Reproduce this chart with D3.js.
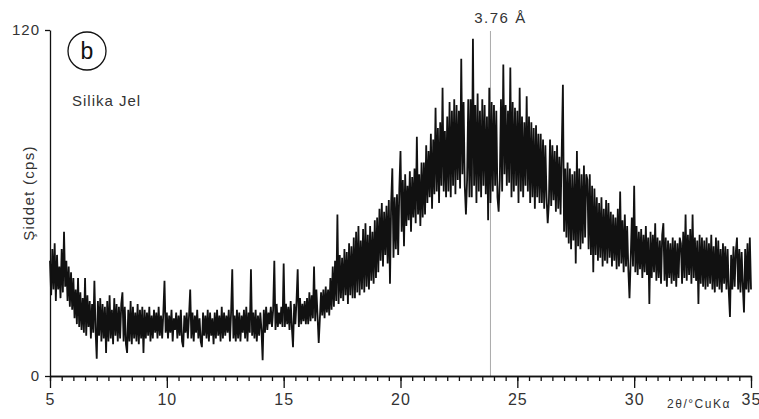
<!DOCTYPE html>
<html>
<head>
<meta charset="utf-8">
<script src="https://cdn.jsdelivr.net/npm/d3@7"></script>
<style>
    body { margin: 0; background: #fff; }
    svg { display: block; font-family: "Liberation Sans", Arial, sans-serif; }
</style>
</head>
<body>
<svg id="chart" width="759" height="419"></svg>
<script>
// 2θ from 5 to 35 in 0.05 steps, counts one degree per row
const angleStart = 5;
const angleStep = 0.05;
const intensity = [
    40, 28, 44, 30, 46, 26, 42, 30, 38, 27, 44, 29, 50, 31, 40, 26, 38, 24, 36, 23,
    34, 20, 30, 18, 34, 17, 29, 16, 27, 15, 34, 14, 28, 17, 26, 13, 25, 15, 33, 16,
    6, 26, 14, 27, 12, 25, 13, 24, 8, 26, 12, 28, 13, 23, 11, 27, 14, 25, 12, 24,
    13, 25, 29, 12, 24, 11, 8, 23, 12, 26, 11, 24, 13, 22, 12, 25, 11, 23, 13, 24,
    8, 23, 13, 22, 14, 24, 12, 21, 13, 23, 15, 22, 13, 24, 14, 21, 13, 22, 33, 15,
    22, 13, 21, 15, 23, 12, 20, 16, 22, 13, 21, 14, 23, 12, 10, 21, 15, 22, 13, 21,
    30, 13, 22, 12, 21, 15, 23, 13, 20, 12, 10, 22, 14, 21, 13, 23, 12, 22, 14, 20,
    11, 22, 13, 23, 14, 21, 12, 24, 13, 22, 14, 21, 15, 23, 12, 22, 37, 13, 21, 12,
    23, 13, 22, 12, 21, 15, 23, 13, 24, 12, 22, 15, 37, 14, 22, 13, 23, 12, 21, 14,
    22, 16, 5.5, 23, 15, 24, 16, 22, 18, 24, 17, 23, 40, 16, 25, 17, 22, 18, 24, 17,
    39, 17, 25, 18, 24, 16, 26, 17, 10, 25, 18, 26, 37, 17, 27, 18, 25, 19, 26, 18,
    27, 18, 29, 19, 28, 20, 38, 19, 30, 21, 11.5, 20, 29, 21, 30, 20, 31, 22, 30, 21,
    34, 23, 38, 24, 40, 26, 56, 25, 42, 27, 41, 26, 44, 28, 43, 25, 46, 28, 45, 27,
    48, 27, 50, 29, 52, 28, 47, 30, 51, 29, 53, 31, 49, 30, 52, 33, 50, 32, 54, 34,
    55, 36, 58, 40, 60, 38, 57, 42, 59, 39, 61, 32, 60, 72, 41, 62, 44, 63, 42, 65,
    78, 50, 68, 45, 70, 52, 66, 54, 71, 50, 69, 55, 72, 53, 83, 56, 70, 52, 74, 55,
    74, 56, 80, 60, 78, 62, 84, 58, 82, 63, 93, 64, 86, 60, 88, 66, 100, 64, 85, 62,
    90, 64, 95, 62, 92, 66, 96, 63, 94, 68, 92, 65, 110, 70, 95, 66, 56, 68, 96, 62,
    96, 62, 117, 66, 94, 60, 98, 64, 92, 62, 96, 66, 94, 63, 90, 54, 100, 60, 95, 64,
    94, 66, 92, 62, 57, 68, 96, 64, 108, 70, 94, 66, 92, 67, 107, 62, 95, 64, 93, 66,
    92, 60, 100, 64, 90, 62, 88, 66, 97, 64, 90, 60, 88, 62, 86, 58, 87, 62, 84, 60,
    84, 60, 82, 58, 80, 62, 53, 60, 82, 59, 80, 61, 78, 57, 80, 58, 76, 56, 78, 101,
    50, 72, 48, 74, 46, 72, 44, 70, 47, 71, 39, 78, 45, 72, 44, 70, 46, 73, 48, 70,
    68, 44, 70, 42, 66, 36, 65, 42, 62, 40, 60, 41, 62, 38, 58, 40, 61, 39, 60, 41,
    57, 38, 56, 40, 55, 37, 58, 38, 64, 39, 54, 36, 56, 38, 52, 37, 27, 40, 55, 38,
    66, 36, 52, 35, 50, 37, 51, 34, 49, 36, 52, 35, 48, 25, 50, 34, 49, 36, 53, 33,
    48, 34, 47, 32, 49, 53, 33, 48, 31, 47, 34, 46, 32, 48, 33, 47, 31, 46, 34, 48,
    46, 32, 50, 34, 56, 33, 49, 35, 51, 32, 56, 34, 48, 33, 47, 25, 49, 32, 48, 31,
    47, 30, 48, 31, 46, 32, 49, 30, 45, 29, 48, 31, 47, 30, 44, 29, 46, 32, 45, 30,
    44, 29, 20.5, 42, 30, 45, 31, 43, 48, 30, 44, 29, 43, 31, 22, 44, 30, 46, 29, 48,
    30
];
const majorTicks = [5, 10, 15, 20, 25, 30, 35];
const yTicks = [0, 120];
const peakAngle = 23.85;
const peakLabel = '3.76 Å';

const data = intensity.map((value, i) => ({ angle: angleStart + i * angleStep, value }));

const svg = d3.select('#chart');
const ink = '#111';
const textColor = '#333';

const x = d3.scaleLinear().domain([5, 35]).range([50, 751]);
const y = d3.scaleLinear().domain([0, 120]).range([376, 30]);

// reference line at the main reflection
svg.append('line')
    .attr('x1', x(peakAngle))
    .attr('x2', x(peakAngle))
    .attr('y1', 31)
    .attr('y2', y(0))
    .attr('stroke', '#aaa')
    .attr('stroke-width', 1);

svg.append('text')
    .attr('x', x(peakAngle) + 10)
    .attr('y', 23)
    .attr('text-anchor', 'middle')
    .attr('font-size', 15)
    .attr('letter-spacing', 1.5)
    .attr('fill', textColor)
    .text(peakLabel);

const line = d3.line()
    .x(d => x(d.angle))
    .y(d => y(d.value));

svg.append('path')
    .datum(data)
    .attr('fill', 'none')
    .attr('stroke', ink)
    .attr('stroke-width', 1.8)
    .attr('stroke-linejoin', 'miter')
    .attr('d', line);

// x axis: minor ticks every 0.5, major every 5
const minorAxis = d3.axisBottom(x)
    .tickValues(d3.range(5, 35.01, 0.5))
    .tickSize(5)
    .tickSizeOuter(0)
    .tickFormat('');

const majorAxis = d3.axisBottom(x)
    .tickValues(majorTicks)
    .tickSize(12)
    .tickSizeOuter(0)
    .tickPadding(6)
    .tickFormat(d3.format('d'));

svg.append('g')
    .attr('transform', `translate(0, ${y(0)})`)
    .call(minorAxis);

const xAxe = svg.append('g')
    .attr('transform', `translate(0, ${y(0)})`)
    .call(majorAxis);

xAxe.selectAll('text')
    .attr('font-size', 16)
    .attr('letter-spacing', 1)
    .attr('fill', textColor);

const yAxe = svg.append('g')
    .attr('transform', `translate(${x(5)}, 0)`)
    .call(d3.axisLeft(y).tickValues(yTicks).tickSize(5).tickSizeOuter(0).tickPadding(5));

yAxe.selectAll('text')
    .attr('font-size', 15)
    .attr('letter-spacing', 1)
    .attr('fill', textColor);

svg.selectAll('.domain, .tick line')
    .attr('stroke', ink)
    .attr('stroke-width', 1.3);

svg.append('text')
    .attr('x', 699)
    .attr('y', 408)
    .attr('text-anchor', 'middle')
    .attr('font-size', 12)
    .attr('letter-spacing', 1.5)
    .attr('fill', textColor)
    .text('2θ/°CuKα');

svg.append('text')
    .attr('transform', 'translate(34, 193) rotate(-90)')
    .attr('text-anchor', 'middle')
    .attr('font-size', 15)
    .attr('letter-spacing', 1.3)
    .attr('fill', textColor)
    .text('Şiddet (cps)');

// panel marker and sample name
svg.append('circle')
    .attr('cx', 87)
    .attr('cy', 51)
    .attr('r', 19)
    .attr('fill', 'none')
    .attr('stroke', ink)
    .attr('stroke-width', 1.3);

svg.append('text')
    .attr('x', 87)
    .attr('y', 59)
    .attr('text-anchor', 'middle')
    .attr('font-size', 23)
    .attr('fill', ink)
    .text('b');

svg.append('text')
    .attr('x', 72)
    .attr('y', 106)
    .attr('font-size', 15)
    .attr('letter-spacing', 1)
    .attr('fill', textColor)
    .text('Silika Jel');
</script>
</body>
</html>
